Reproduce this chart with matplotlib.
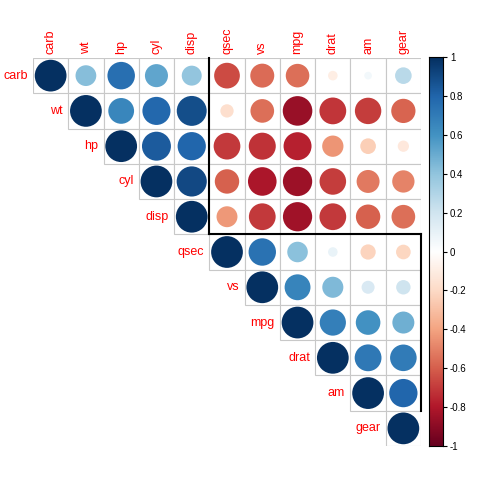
import matplotlib
matplotlib.use("Agg")
import matplotlib.pyplot as plt
import numpy as np
from matplotlib.colors import LinearSegmentedColormap
from matplotlib.patches import Circle, Rectangle

plt.rcParams['font.family'] = ['Liberation Sans', 'DejaVu Sans']

# variable order (hclust) and correlation matrix of mtcars
labels = ["carb", "wt", "hp", "cyl", "disp", "qsec", "vs", "mpg", "drat", "am", "gear"]
corr = np.array([
    [1.000, 0.428, 0.750, 0.527, 0.395, -0.656, -0.570, -0.551, -0.091, 0.058, 0.274],
    [0.428, 1.000, 0.659, 0.782, 0.888, -0.175, -0.555, -0.868, -0.712, -0.692, -0.583],
    [0.750, 0.659, 1.000, 0.832, 0.791, -0.708, -0.723, -0.776, -0.449, -0.243, -0.126],
    [0.527, 0.782, 0.832, 1.000, 0.902, -0.591, -0.811, -0.852, -0.700, -0.523, -0.493],
    [0.395, 0.888, 0.791, 0.902, 1.000, -0.434, -0.710, -0.848, -0.710, -0.591, -0.556],
    [-0.656, -0.175, -0.708, -0.591, -0.434, 1.000, 0.745, 0.419, 0.091, -0.230, -0.213],
    [-0.570, -0.555, -0.723, -0.811, -0.710, 0.745, 1.000, 0.664, 0.440, 0.168, 0.206],
    [-0.551, -0.868, -0.776, -0.852, -0.848, 0.419, 0.664, 1.000, 0.681, 0.600, 0.480],
    [-0.091, -0.712, -0.449, -0.700, -0.710, 0.091, 0.440, 0.681, 1.000, 0.713, 0.700],
    [0.058, -0.692, -0.243, -0.523, -0.591, -0.230, 0.168, 0.600, 0.713, 1.000, 0.794],
    [0.274, -0.583, -0.126, -0.493, -0.556, -0.213, 0.206, 0.480, 0.700, 0.794, 1.000],
])
clusters = [5, 6]  # sizes of the two hclust groups
cbar_ticks = [-1, -0.8, -0.6, -0.4, -0.2, 0, 0.2, 0.4, 0.6, 0.8, 1]

pal = ["#67001F", "#B2182B", "#D6604D", "#F4A582", "#FDDBC7", "#FFFFFF",
       "#D1E5F0", "#92C5DE", "#4393C3", "#2166AC", "#053061"]
cmap = LinearSegmentedColormap.from_list("corr", pal, N=200)

n = len(labels)
fig = plt.figure(figsize=(4.8, 4.8), dpi=100)
ax = fig.add_axes([33 / 480, 34 / 480, 388 / 480, 388 / 480])
ax.set_xlim(0, n)
ax.set_ylim(n, 0)
ax.axis("off")

for i in range(n):
    for j in range(i, n):
        ax.add_patch(Rectangle((j, i), 1, 1, facecolor="white", edgecolor="#C8C8C8", lw=0.8))
for i in range(n):
    for j in range(i, n):
        r = corr[i, j]
        ax.add_patch(Circle((j + 0.5, i + 0.5), 0.45 * np.sqrt(abs(r)),
                            facecolor=cmap((r + 1) / 2), edgecolor="none"))

# labels
for i, lab in enumerate(labels):
    ax.text(i - 0.15, i + 0.5, lab, color="red", fontsize=9, ha="right", va="center")
    ax.text(i + 0.5, -0.12, lab, color="red", fontsize=9, ha="center", va="bottom",
            rotation=90)

# cluster rectangles (upper part only)
k = clusters[0]
ax.plot([k, k], [0, k], color="black", lw=1.5, clip_on=False)
ax.plot([k, n], [k, k], color="black", lw=1.5, clip_on=False)
ax.plot([n, n], [k, n - 1], color="black", lw=1.5, clip_on=False)

# colour bar
cax = fig.add_axes([429 / 480, 34 / 480, 14 / 480, 389 / 480])
grad = np.linspace(-1, 1, 200).reshape(-1, 1)
cax.imshow(grad, cmap=cmap, aspect="auto", origin="lower", extent=[0, 1, -1, 1],
           vmin=-1, vmax=1)
cax.set_xticks([])
cax.yaxis.tick_right()
cax.set_yticks(cbar_ticks)
cax.set_yticklabels([f"{t:g}" for t in cbar_ticks])
cax.tick_params(axis="y", labelsize=7, length=3, width=0.8, pad=2)
for s in cax.spines.values():
    s.set_linewidth(0.8)

fig.savefig("out.png", dpi=100)
